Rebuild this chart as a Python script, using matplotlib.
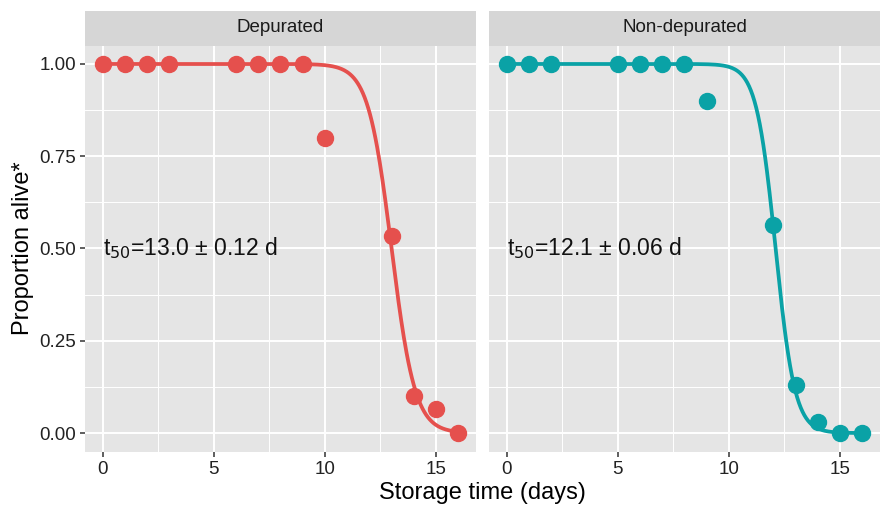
import numpy as np
import matplotlib.pyplot as plt

plt.rcParams['font.family'] = ['Liberation Sans', 'DejaVu Sans']

# observed survival, one panel per treatment
panels = ["Depurated", "Non-depurated"]
days_dep = [0, 1, 2, 3, 6, 7, 8, 9, 10, 13, 14, 15, 16]
alive_dep = [1.0, 1.0, 1.0, 1.0, 1.0, 1.0, 1.0, 1.0, 0.80, 0.535, 0.10, 0.065, 0.0]
days_non = [0, 1, 2, 5, 6, 7, 8, 9, 12, 13, 14, 15, 16]
alive_non = [1.0, 1.0, 1.0, 1.0, 1.0, 1.0, 1.0, 0.90, 0.565, 0.13, 0.03, 0.0, 0.0]

# logistic fit: t50 (days), its SE, and slope
t50 = [13.0, 12.1]
t50_se = [0.12, 0.06]
rate = [1.9, 2.3]

colors = ["#E5504D", "#0AA2A6"]
days = [days_dep, days_non]
alive = [alive_dep, alive_non]

fig = plt.figure(figsize=(8.93, 5.08), dpi=100)
lefts = [85 / 893, 489 / 893]
width = 391 / 893
bottom = 1 - 451.5 / 508
height = 406 / 508
strip_h = 35 / 508

for i in range(2):
    ax = fig.add_axes([lefts[i], bottom, width, height])
    ax.set_facecolor("#E5E5E5")
    for s in ax.spines.values():
        s.set_visible(False)
    ax.set_xlim(-0.8, 16.8)
    ax.set_ylim(-0.05, 1.05)
    ax.set_xticks([0, 5, 10, 15])
    ax.set_xticks([2.5, 7.5, 12.5], minor=True)
    ax.set_yticks([0, 0.25, 0.5, 0.75, 1.0])
    ax.set_yticks([0.125, 0.375, 0.625, 0.875], minor=True)
    ax.grid(which="major", color="white", lw=1.4)
    ax.grid(which="minor", color="white", lw=0.7)
    ax.set_axisbelow(True)
    ax.tick_params(which="major", length=3.5, width=1.1, color="#333333",
                   labelsize=13.5, labelcolor="#222222", pad=3)
    ax.tick_params(which="minor", length=0)
    if i == 0:
        ax.set_yticklabels(["0.00", "0.25", "0.50", "0.75", "1.00"])
        ax.set_ylabel("Proportion alive*", fontsize=17, labelpad=4)
    else:
        ax.tick_params(axis="y", which="major", length=0, labelleft=False)

    t = np.linspace(0, 16, 400)
    fit = 1 / (1 + np.exp(rate[i] * (t - t50[i])))
    ax.plot(t, fit, color=colors[i], lw=2.7, zorder=3)
    ax.plot(days[i], alive[i], "o", color=colors[i], ms=11.5, zorder=4)
    ax.text(0, 0.5, "t$_{50}$=%.1f ± %.2f d" % (t50[i], t50_se[i]),
            fontsize=16.5, va="center", ha="left", color="#111111",
            math_fontfamily="dejavusans")

    strip = fig.add_axes([lefts[i], bottom + height, width, strip_h])
    strip.set_facecolor("#D6D6D6")
    strip.set_xticks([])
    strip.set_yticks([])
    for s in strip.spines.values():
        s.set_visible(False)
    strip.text(0.5, 0.5, panels[i], ha="center", va="center",
               fontsize=13.5, color="#1A1A1A", transform=strip.transAxes)

fig.text((85 + 880) / 2 / 893, 0.008, "Storage time (days)", ha="center",
         va="bottom", fontsize=17)

fig.savefig("out.png", dpi=100)
